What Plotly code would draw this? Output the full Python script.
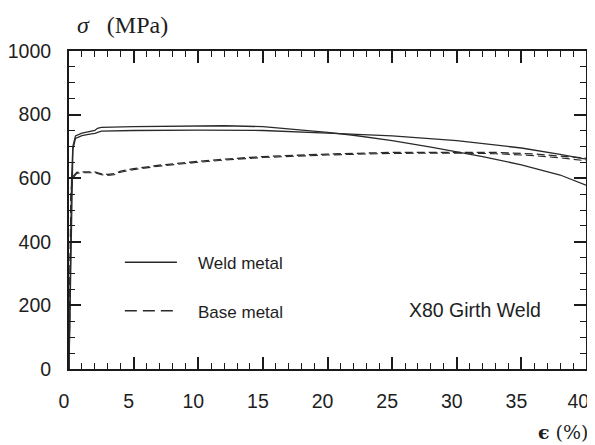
import plotly.graph_objects as go

# Weld metal specimen 1 (higher plateau, steeper softening)
weld1_strain = [0, 0.1, 0.2, 0.3, 0.5, 1.0, 1.5, 2.0, 2.2, 2.5, 5, 8, 10, 12, 15, 18, 20, 22, 25, 28, 30, 32, 35, 38, 40]
weld1_stress = [0, 300, 600, 700, 733, 742, 746, 750, 757, 760, 762, 764, 765, 765, 762, 752, 744, 735, 718, 698, 684, 668, 642, 610, 578]

# Weld metal specimen 2 (lower plateau, gentle softening)
weld2_strain = [0, 0.1, 0.2, 0.3, 0.5, 1.0, 1.5, 2.0, 2.5, 5, 10, 15, 20, 25, 30, 35, 38, 40]
weld2_stress = [0, 280, 560, 690, 725, 734, 738, 741, 748, 750, 751, 750, 742, 733, 718, 695, 675, 660]

# Base metal specimens
base1_strain = [0, 0.05, 0.15, 0.3, 0.6, 1.0, 1.5, 2.0, 2.5, 3.0, 3.5, 4.0, 5, 7, 10, 12, 15, 18, 20, 25, 30, 33, 36, 38, 40]
base1_stress = [0, 300, 560, 605, 618, 620, 621, 620, 614, 612, 614, 622, 630, 641, 653, 660, 668, 673, 676, 681, 682, 681, 676, 670, 663]
base2_strain = [0, 0.05, 0.15, 0.3, 0.6, 1.0, 1.5, 2.0, 2.5, 3.0, 3.5, 4.0, 5, 7, 10, 12, 15, 18, 20, 25, 30, 33, 36, 38, 40]
base2_stress = [0, 290, 550, 600, 615, 617, 618, 617, 611, 609, 611, 619, 627, 638, 650, 657, 665, 670, 673, 678, 679, 677, 671, 664, 655]

x_ticks = [0, 5, 10, 15, 20, 25, 30, 35, 40]
x_tick_labels = ["0", "5", "10", "15", "20", "25", "30", "35", "40&nbsp;"]
y_ticks = [0, 200, 400, 600, 800, 1000]
y_tick_labels = ["0", "200", "400", "600", "800", "1000"]

LINE = "#2a2a2a"
TXT = "#1e1e1e"

fig = go.Figure()
fig.add_trace(go.Scatter(x=weld1_strain, y=weld1_stress, mode="lines", name="Weld metal",
                         line=dict(color=LINE, width=1.3), showlegend=False))
fig.add_trace(go.Scatter(x=weld2_strain, y=weld2_stress, mode="lines", name="Weld metal",
                         line=dict(color=LINE, width=1.3), showlegend=False))
fig.add_trace(go.Scatter(x=base1_strain, y=base1_stress, mode="lines", name="Base metal",
                         line=dict(color=LINE, width=1.3, dash="8px,4px"), showlegend=False))
fig.add_trace(go.Scatter(x=base2_strain, y=base2_stress, mode="lines", name="Base metal",
                         line=dict(color=LINE, width=1.1, dash="8px,4px"), showlegend=False))

axis_common = dict(
    showline=True, linecolor="#1a1a1a", linewidth=2, mirror="ticks",
    ticks="inside", ticklen=12, tickwidth=1.5, tickcolor="#1a1a1a",
    showgrid=False, zeroline=False, automargin=False, ticklabeloverflow="allow",
    tickfont=dict(family="Liberation Sans, Arial, sans-serif", size=19.5, color=TXT),
)

fig.update_xaxes(range=[0, 40], tickvals=x_ticks, ticktext=x_tick_labels,
                 minor=dict(dtick=1, ticks="inside", ticklen=6, tickwidth=1.2, tickcolor="#1a1a1a"),
                 ticklabelstandoff=14, ticklabelshift=-5, **axis_common)
fig.update_yaxes(range=[0, 1000], tickvals=y_ticks, ticktext=y_tick_labels,
                 minor=dict(dtick=50, ticks="inside", ticklen=6, tickwidth=1.2, tickcolor="#1a1a1a"),
                 ticklabelstandoff=12, **axis_common)

# legend drawn as line samples and labels
legend_items = [("Weld metal", 336, "solid"), ("Base metal", 183, "12px,6px")]
for label, yv, dash in legend_items:
    fig.add_shape(type="line", x0=4.32, x1=8.35, y0=yv, y1=yv, xref="x", yref="y",
                  line=dict(color=LINE, width=1.5, dash=dash))
    fig.add_annotation(x=9.8, y=yv - 4, xref="x", yref="y", text=label, showarrow=False,
                       xanchor="left", yanchor="middle",
                       font=dict(family="Liberation Sans, Arial, sans-serif", size=17, color=TXT))

fig.add_annotation(x=26.15, y=185, xref="x", yref="y", text="X80 Girth Weld", showarrow=False,
                   xanchor="left", yanchor="middle",
                   font=dict(family="Liberation Sans, Arial, sans-serif", size=19.5, color=TXT))

# the page body adds an 8px margin, so the figure is 8px smaller and offset
OFF = 8
W, H = 595 - OFF, 445 - OFF
L = 69 - OFF
T = 51 - OFF
R = W - (586 - OFF)
B = H - (369 - OFF)
pw, ph = W - L - R, H - T - B

def px2paper(px, py):
    return (px - OFF - L) / pw, 1 - (py - OFF - T) / ph

sx, sy = px2paper(75, 25)
fig.add_annotation(x=sx, y=sy, xref="paper", yref="paper", text="<i>σ</i>&nbsp;&nbsp;&nbsp;(MPa)", showarrow=False,
                   xanchor="left", yanchor="middle",
                   font=dict(family="Liberation Serif, Times New Roman, serif", size=24, color=TXT))
ex, ey = px2paper(591, 432)
fig.add_annotation(x=ex, y=ey, xref="paper", yref="paper", text="<b>ϵ</b> (%)", showarrow=False,
                   xanchor="right", yanchor="middle",
                   font=dict(family="DejaVu Serif, Liberation Serif, serif", size=19, color=TXT))

fig.update_layout(
    width=W, height=H,
    margin=dict(l=L, r=R, t=T, b=B, autoexpand=False),
    paper_bgcolor="white", plot_bgcolor="white",
    showlegend=False,
)

fig.write_html("out.html")
